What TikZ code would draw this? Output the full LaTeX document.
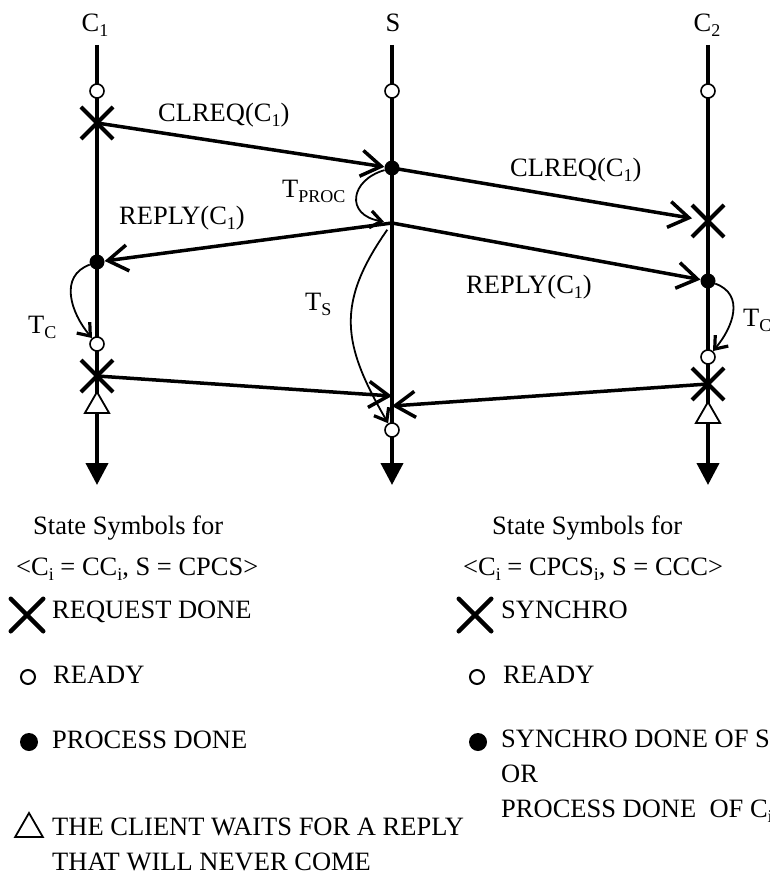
\documentclass[tikz,border=0pt]{standalone}
\usepackage{fontspec}
\setmainfont{Liberation Serif}
\usetikzlibrary{arrows.meta,shapes.misc,shapes.geometric}
\newcommand\sbs[1]{\raisebox{-5pt}{\fontsize{18}{18}\selectfont #1}}
\begin{document}
\begin{tikzpicture}[x=1pt,y=1pt,
  every node/.style={font=\fontsize{26.5}{31}\selectfont},
  life/.style={line width=4pt,-{Triangle[length=22pt,width=22pt]}},
  msg/.style={line width=3.5pt,-{Straight Barb[length=20pt,width=26pt]}},
  curve/.style={line width=1.8pt,-{Straight Barb[length=11pt,width=17pt,line width=3.2pt]}},
  ready/.style={circle,draw,fill=white,line width=1.6pt,inner sep=0pt,minimum size=14pt},
  done/.style={circle,fill=black,inner sep=0pt,minimum size=15pt},
  xmark/.style={cross out,draw,line width=4pt,inner sep=0pt,minimum size=28pt},
  lxmark/.style={cross out,draw,line width=4.5pt,line cap=round,inner sep=0pt,minimum size=28pt},
  wait/.style={regular polygon,regular polygon sides=3,draw,fill=white,line width=1.8pt,inner sep=0pt,minimum size=28pt},
  lbl/.style={anchor=base west,inner sep=0pt},
  head/.style={anchor=base,inner sep=0pt}
]
\useasboundingbox (0,0) rectangle (769,-877);

% lifelines
\coordinate (c1top) at (97,-45);  \coordinate (c1bot) at (97,-485);
\coordinate (stop)  at (392,-45); \coordinate (sbot)  at (392,-485);
\coordinate (c2top) at (708,-45); \coordinate (c2bot) at (708,-485);
\draw[life] (c1top) -- (c1bot);
\draw[life] (stop) -- (sbot);
\draw[life] (c2top) -- (c2bot);

\node[head] (hc1) at (95,-32) {C\sbs{1}};
\node[head] (hs)  at (393,-32) {S};
\node[head] (hc2) at (707,-32) {C\sbs{2}};

% states on C1
\node[ready] (c1r1) at (97,-91) {};
\node[xmark] (c1x1) at (97,-123) {};
\node[done]  (c1d)  at (97,-262) {};
\node[ready] (c1r2) at (97,-344) {};
\node[xmark] (c1x2) at (97,-376) {};
\node[wait]  (c1w)  at (97,-406) {};

% states on S
\node[ready] (sr1) at (392,-91) {};
\node[done]  (sd)  at (392,-168) {};
\node[circle,inner sep=0pt,minimum size=16pt] (sj) at (392,-223) {};
\coordinate (sa1) at (392,-396);
\coordinate (sa2) at (392,-406);
\node[ready] (sr2) at (392,-430) {};

% states on C2
\node[ready] (c2r1) at (708,-91) {};
\node[xmark] (c2x1) at (708,-221) {};
\node[done]  (c2d)  at (708,-281) {};
\node[ready] (c2r2) at (708,-357) {};
\node[xmark] (c2x2) at (708,-384) {};
\node[wait]  (c2w)  at (708,-416) {};

% messages
\draw[msg] (c1x1.center) -- (sd);
\draw[msg] (sd.center) -- (c2x1);
\draw[msg] (sj.center) -- (c1d);
\draw[msg] (sj.center) -- (c2d);
\draw[msg] (c1x2.center) -- (sa1);
\draw[msg] (c2x2.center) -- (sa2);

% timing curves
\draw[curve] (sd) .. controls (350,-180) and (345,-215) .. (sj);
\draw[curve] (sj) to[out=235,in=120,looseness=1.2] (sr2);
\draw[curve] (c1d) to[out=200,in=130,looseness=1.15] (c1r2);
\draw[curve] (c2d) to[out=-20,in=50,looseness=1.2] (c2r2);

% labels
\node[lbl] (m1) at (158,-122) {CLREQ(C\sbs{1})};
\node[lbl] (m2) at (510,-177) {CLREQ(C\sbs{1})};
\node[lbl] (m3) at (119,-225) {REPLY(C\sbs{1})};
\node[lbl] (m4) at (466,-293) {REPLY(C\sbs{1})};
\node[lbl] (tp) at (282,-198) {T\sbs{PROC}};
\node[lbl] (ts) at (305,-310) {T\sbs{S}};
\node[lbl] (tc1) at (28,-333) {T\sbs{C}};
\node[lbl] (tc2) at (743,-326) {T\sbs{C}};

% legend left
\node[lbl] (l1) at (33,-534) {State Symbols for};
\node[lbl] (l2) at (16,-575) {<C\sbs{i} = CC\sbs{i}, S = CPCS>};
\node[lxmark] (lx) at (27,-615) {};
\node[lbl] (l3) at (52,-618) {REQUEST DONE};
\node[ready,minimum size=14pt,line width=2pt] (lr) at (28,-677) {};
\node[lbl] (l4) at (53,-683) {READY};
\node[done,minimum size=18pt] (ld) at (29,-742) {};
\node[lbl] (l5) at (52,-748) {PROCESS DONE};
\node[wait,minimum size=32pt] (lw) at (29,-829) {};
\node[lbl] (l6) at (52,-835) {THE CLIENT WAITS FOR A REPLY};
\node[lbl] (l7) at (52,-870) {THAT WILL NEVER COME};

% legend right
\node[lbl] (r1) at (492,-534) {State Symbols for};
\node[lbl] (r2) at (463,-575) {<C\sbs{i} = CPCS\sbs{i}, S = CCC>};
\node[lxmark] (rx) at (475,-615) {};
\node[lbl] (r3) at (501,-618) {SYNCHRO};
\node[ready,minimum size=14pt,line width=2pt] (rr) at (477,-677) {};
\node[lbl] (r4) at (503,-683) {READY};
\node[done,minimum size=18pt] (rd) at (478,-742) {};
\node[lbl] (r5) at (501,-747) {SYNCHRO DONE OF S};
\node[lbl] (r6) at (501,-782) {OR};
\node[lbl] (r7) at (501,-817) {PROCESS DONE\ \ OF C\sbs{i}};
\end{tikzpicture}
\end{document}
